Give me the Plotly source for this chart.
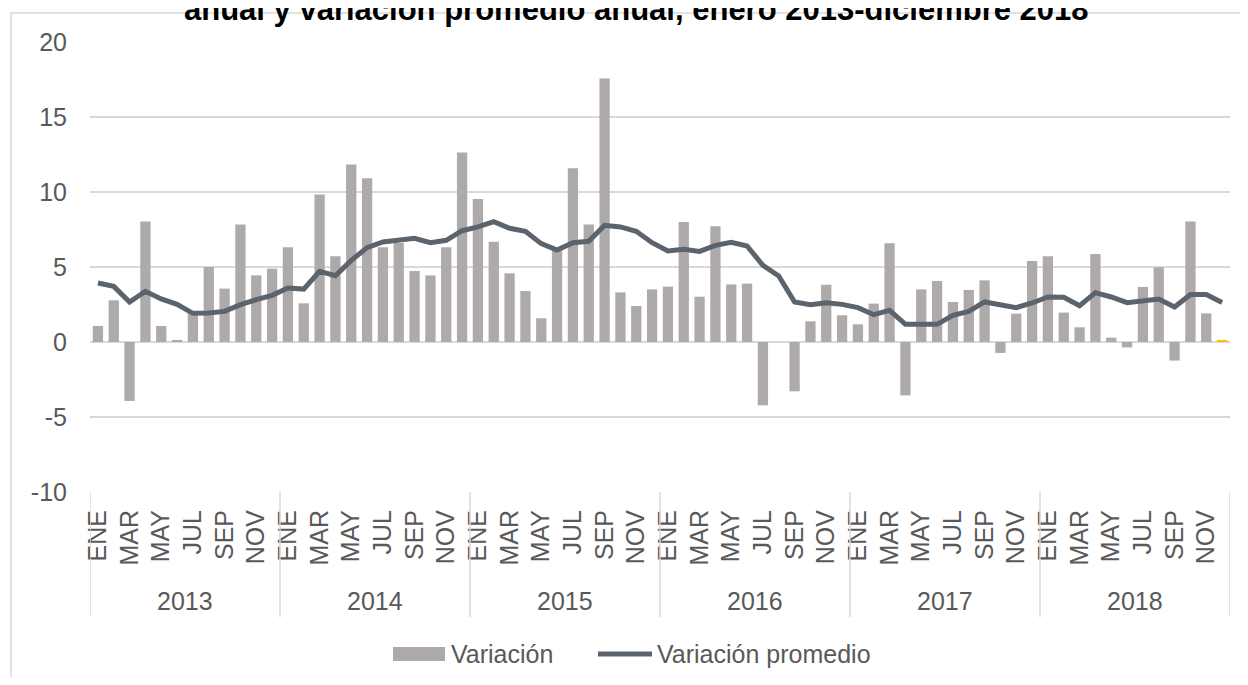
import plotly.graph_objects as go

years = ["2013", "2014", "2015", "2016", "2017", "2018"]
months = ["ENE", "FEB", "MAR", "ABR", "MAY", "JUN", "JUL", "AGO", "SEP", "OCT", "NOV", "DIC"]

variacion = [
    1.07, 2.78, -3.93, 8.04, 1.07, 0.11, 1.95, 5.00, 3.56, 7.84, 4.44, 4.89,
    6.31, 2.58, 9.84, 5.71, 11.84, 10.91, 6.31, 6.60, 4.73, 4.44, 6.31, 12.64,
    9.53, 6.69, 4.58, 3.40, 1.58, 6.11, 11.58, 7.84, 17.56, 3.31, 2.40, 3.51,
    3.69, 8.00, 3.02, 7.71, 3.84, 3.89, -4.22, 0.00, -3.29, 1.38, 3.82, 1.78,
    1.18, 2.56, 6.58, -3.56, 3.51, 4.07, 2.67, 3.47, 4.11, -0.73, 1.89, 5.40,
    5.71, 1.96, 0.98, 5.87, 0.29, -0.36, 3.67, 4.98, -1.24, 8.04, 1.91, 0.09,
]

variacion_promedio = [
    3.93, 3.71, 2.67, 3.38, 2.87, 2.51, 1.91, 1.93, 2.04, 2.49, 2.82, 3.11,
    3.60, 3.53, 4.71, 4.42, 5.44, 6.29, 6.67, 6.82, 6.91, 6.62, 6.78, 7.42,
    7.67, 8.02, 7.58, 7.38, 6.56, 6.13, 6.62, 6.71, 7.78, 7.67, 7.38, 6.62,
    6.07, 6.18, 6.04, 6.44, 6.64, 6.40, 5.11, 4.40, 2.67, 2.49, 2.62, 2.51,
    2.29, 1.82, 2.11, 1.18, 1.18, 1.18, 1.78, 2.04, 2.67, 2.49, 2.29, 2.60,
    3.00, 2.98, 2.42, 3.29, 3.00, 2.62, 2.73, 2.87, 2.33, 3.16, 3.16, 2.64,
]

y_tick_vals = [-10, -5, 0, 5, 10, 15, 20]
y_tick_text = ["-10", "-5", "0", "5", "10", "15", "20"]

title_text = "anual y variación promedio anual, enero 2013-diciembre 2018"

categories = [f"{m} {y}" for y in years for m in months]
shown_months = ["ENE", "MAR", "MAY", "JUL", "SEP", "NOV"]
tick_vals = [c for c in categories if c.split()[0] in shown_months]
tick_text = [c.split()[0] for c in tick_vals]

BAR = "#AEAAAA"
LINE = "#5B646C"
TXT = "#595959"
GRID = "#D9D9D9"
FONT = "Liberation Sans, Arial, sans-serif"

bar_colors = [BAR] * (len(variacion) - 1) + ["#FFC000"]

OFF = 8  # page body margin
W, H = 1232, 669
L, T = 90 - OFF, 42 - OFF
R = W - (1230 - OFF)
B = H - (492 - OFF)
pw, ph = W - L - R, H - T - B

def px(x):
    return (x - OFF - L) / pw

def py(y):
    return (H - B - (y - OFF)) / ph

fig = go.Figure()
fig.add_trace(go.Bar(x=categories, y=variacion, name="Variación",
                     marker=dict(color=bar_colors, line=dict(width=0)),
                     showlegend=False))
fig.add_trace(go.Scatter(x=categories, y=variacion_promedio, name="Variación promedio",
                         mode="lines", line=dict(color=LINE, width=5),
                         showlegend=False))

shapes = []
annotations = []
n = len(months)
for k in range(len(years) + 1):
    shapes.append(dict(type="line", xref="x", yref="paper",
                       x0=k * n - 0.5, x1=k * n - 0.5, y0=0, y1=py(617),
                       line=dict(color=GRID, width=1.5)))
for k, yr in enumerate(years):
    annotations.append(dict(xref="x", yref="paper", x=k * n + (n - 1) / 2, y=py(601),
                            text=yr, showarrow=False, xanchor="center", yanchor="middle",
                            font=dict(size=25, color=TXT, family=FONT)))
# outer border
shapes.append(dict(type="rect", xref="paper", yref="paper",
                   x0=px(11), x1=px(1300), y0=py(720), y1=py(13),
                   line=dict(color=GRID, width=1.5), fillcolor="rgba(0,0,0,0)", layer="below"))
# legend
shapes.append(dict(type="rect", xref="paper", yref="paper",
                   x0=px(393), x1=px(445), y0=py(661), y1=py(647),
                   line=dict(width=0), fillcolor=BAR))
shapes.append(dict(type="line", xref="paper", yref="paper",
                   x0=px(598), x1=px(652), y0=py(654), y1=py(654),
                   line=dict(color=LINE, width=5)))
annotations.append(dict(xref="paper", yref="paper", x=px(449), y=py(654), text="Variación",
                        showarrow=False, xanchor="left", yanchor="middle",
                        font=dict(size=25, color=TXT, family=FONT)))
annotations.append(dict(xref="paper", yref="paper", x=px(655), y=py(654), text="Variación promedio",
                        showarrow=False, xanchor="left", yanchor="middle",
                        font=dict(size=25, color=TXT, family=FONT)))
# title, partially cut at the top edge like the reference
annotations.append(dict(xref="paper", yref="paper", x=px(636), y=py(10),
                        text="<b>" + title_text + "</b>",
                        showarrow=False, xanchor="center", yanchor="middle",
                        font=dict(size=31, color="#000000", family=FONT)))

fig.update_layout(
    width=W, height=H,
    margin=dict(l=L, r=R, t=T, b=B),
    paper_bgcolor="white", plot_bgcolor="white",
    bargap=0.35,
    shapes=shapes, annotations=annotations,
    font=dict(family=FONT, color=TXT, size=25),
)
fig.update_xaxes(type="category", range=[-0.5, len(categories) - 0.5],
                 tickmode="array", tickvals=tick_vals, ticktext=tick_text,
                 tickangle=-90, tickfont=dict(size=25, color=TXT, family=FONT),
                 ticklabelstandoff=12, showgrid=False, showline=False, ticks="")
fig.update_yaxes(range=[-10, 20], tickmode="array", tickvals=y_tick_vals, ticktext=y_tick_text,
                 showgrid=True, gridcolor=GRID, gridwidth=1.5,
                 zeroline=True, zerolinecolor=GRID, zerolinewidth=1.5,
                 tickfont=dict(size=25, color=TXT, family=FONT), ticks="",
                 ticklabelstandoff=22, showline=False)

fig.write_html("out.html")
